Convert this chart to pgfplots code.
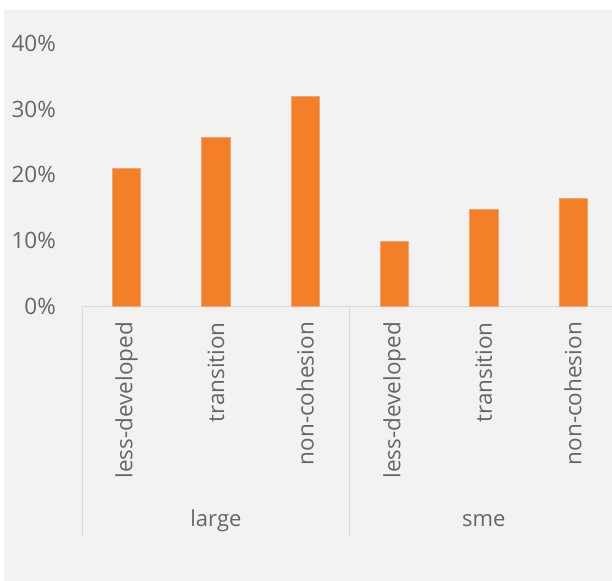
\documentclass[border=0pt]{standalone}
\usepackage{pgfplots}
\pgfplotsset{compat=1.18}
\usetikzlibrary{calc}
\usepackage{fontspec}
\setmainfont{Open Sans}
\definecolor{barorange}{HTML}{F47F29}
\definecolor{baredge}{HTML}{F7A46A}
\definecolor{bgray}{HTML}{F2F2F2}
\definecolor{lgray}{HTML}{D9D9D9}
\definecolor{tgray}{HTML}{666666}
\begin{document}
\begin{tikzpicture}
\useasboundingbox (0,0) rectangle (612bp,581bp);
\fill[white] (0,0) rectangle (612bp,581bp);
\fill[bgray] (4bp,0) rectangle (612bp,571bp);
\begin{axis}[
  at={(82bp,275bp)}, anchor=south west,
  scale only axis,
  width=530bp, height=262.5bp,
  xmin=-0.5, xmax=5.437,
  ymin=0, ymax=40,
  ybar, bar width=28.3bp,
  axis x line*=bottom, axis y line*=left,
  x axis line style={draw=lgray, line width=0.8bp, -},
  y axis line style={draw=none},
  major tick length=0,
  xtick={0,1,2,3,4,5},
  xticklabels={less-developed,transition,non-cohesion,less-developed,transition,non-cohesion},
  xticklabel style={rotate=90, anchor=east, inner xsep=16bp, font=\fontsize{22.5bp}{26bp}\selectfont, text=tgray},
  ytick={0,10,20,30,40},
  yticklabel={\pgfmathprintnumber{\tick}\%},
  /pgf/number format/assume math mode=true,
  yticklabel style={anchor=east, inner sep=0pt, xshift=-26bp, font=\fontsize{22.5bp}{26bp}\selectfont, text=tgray},
  clip=false,
]
\addplot[fill=barorange, draw=baredge, line width=0.6bp] coordinates {(0,21.0) (1,25.7) (2,31.9) (3,9.8) (4,14.75) (5,16.4)};
\draw[lgray, line width=0.8bp] (axis cs:-0.5,0) -- ($(axis cs:-0.5,0)+(0pt,-231bp)$);
\draw[lgray, line width=0.8bp] (axis cs:2.5,0) -- ($(axis cs:2.5,0)+(0pt,-231bp)$);
\node[text=tgray, font=\fontsize{22bp}{26bp}\selectfont] at ($(axis cs:1,0)+(0pt,-215bp)$) {large};
\node[text=tgray, font=\fontsize{22bp}{26bp}\selectfont] at ($(axis cs:4,0)+(0pt,-215bp)$) {sme};
\end{axis}
\end{tikzpicture}
\end{document}
